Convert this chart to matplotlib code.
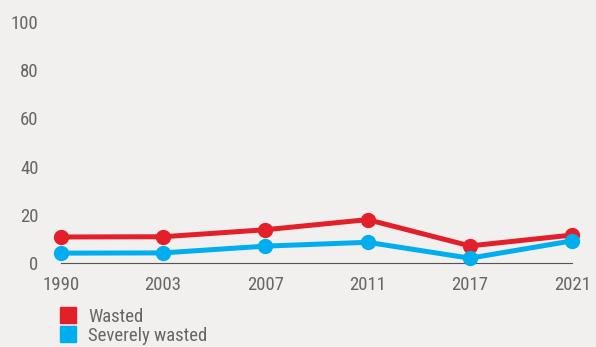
import matplotlib.pyplot as plt
from matplotlib import font_manager
from matplotlib.lines import Line2D

years = ["1990", "2003", "2007", "2011", "2017", "2021"]
wasted = [10.8, 10.9, 13.8, 18.0, 7.1, 11.6]
severely_wasted = [4.1, 4.2, 7.0, 8.6, 2.0, 9.2]
y_ticks = [0, 20, 40, 60, 80, 100]

bg = "#f1f0ee"
red = "#e3202a"
blue = "#00aeef"
grey = "#666666"

# narrow font if there is one
names = {f.name for f in font_manager.fontManager.ttflist}
fams = [n for n in ["Roboto Condensed", "Liberation Sans Narrow", "Roboto"] if n in names]
plt.rcParams["font.family"] = fams + ["DejaVu Sans"]

fig = plt.figure(figsize=(5.96, 3.47), dpi=100, facecolor=bg)
ax = fig.add_axes([0.102, 0.242, 0.858, 0.695], facecolor=bg)

x = list(range(len(years)))
ax.plot(x, wasted, color=red, lw=3.6, marker="o", ms=10, clip_on=False, zorder=3)
ax.plot(x, severely_wasted, color=blue, lw=3.6, marker="o", ms=10, clip_on=False, zorder=4)

ax.set_xlim(0, len(years) - 1)
ax.set_ylim(0, 100)
ax.set_xticks(x)
ax.set_xticklabels(years)
ax.set_yticks(y_ticks)
ax.tick_params(length=0, labelsize=13.5, colors=grey)
ax.tick_params(axis="y", pad=16)
ax.tick_params(axis="x", pad=9)
for s in ["top", "right", "left"]:
    ax.spines[s].set_visible(False)
ax.spines["bottom"].set_color("#555555")
ax.spines["bottom"].set_linewidth(0.8)

handles = [
    Line2D([], [], ls="none", marker="s", ms=11.5, color=red),
    Line2D([], [], ls="none", marker="s", ms=11.5, color=blue),
]
fig.legend(handles, ["Wasted", "Severely wasted"], loc="upper left",
           bbox_to_anchor=(0.098, 0.113), frameon=False, fontsize=13.5,
           labelcolor=grey, handlelength=1.0, handletextpad=0.6,
           labelspacing=0.05, borderpad=0, borderaxespad=0)

fig.savefig("out.png", facecolor=bg)
